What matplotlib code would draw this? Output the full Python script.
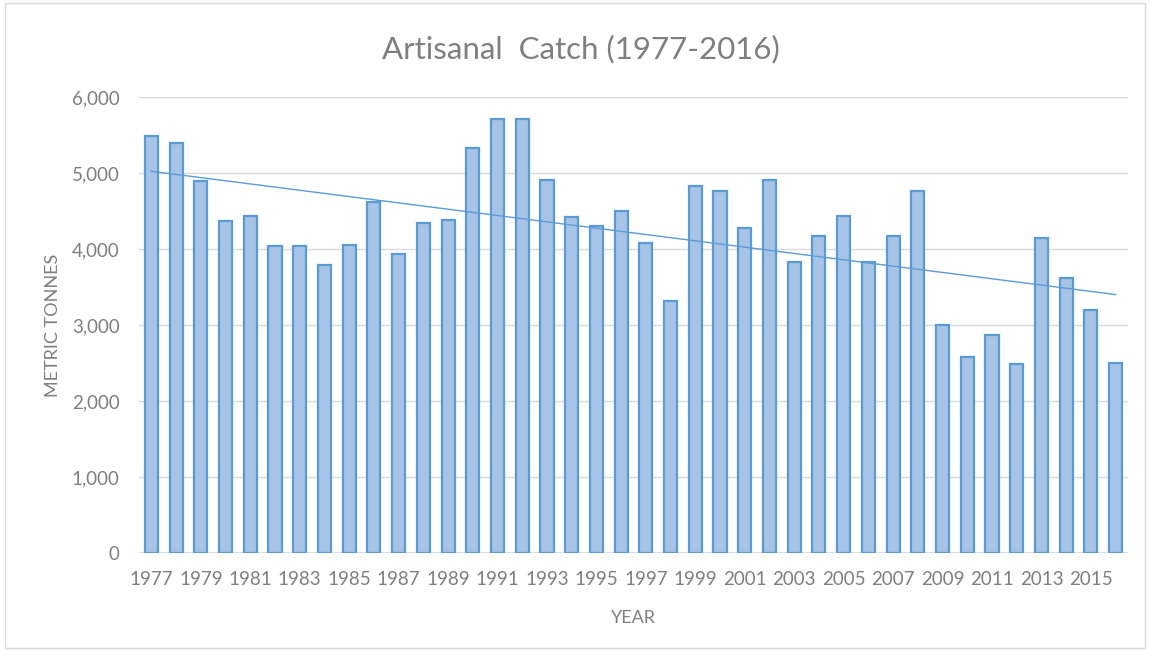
import numpy as np
import matplotlib
matplotlib.use("Agg")
import matplotlib.pyplot as plt
from matplotlib.patches import Rectangle

years = list(range(1977, 2017))
catch = [5490, 5400, 4900, 4365, 4430, 4035, 4035, 3795, 4050, 4625,
         3930, 4340, 4385, 5335, 5710, 5710, 4910, 4415, 4305, 4505,
         4080, 3320, 4835, 4765, 4275, 4910, 3835, 4170, 4430, 3835,
         4170, 4765, 3000, 2580, 2865, 2490, 4140, 3625, 3200, 2500]
yticks = [0, 1000, 2000, 3000, 4000, 5000, 6000]
ytick_labels = ["0", "1,000", "2,000", "3,000", "4,000", "5,000", "6,000"]

plt.rcParams['font.family'] = ['Lato', 'DejaVu Sans']
txt = '#7f7f7f'
blue = '#5b9bd5'
fill = '#a7c3e6'

fig = plt.figure(figsize=(11.51, 6.51), dpi=100)
ax = fig.add_axes([139/1151, 1-553/651, (1128-139)/1151, (553-97)/651])

x = np.arange(len(years))
ax.bar(x, catch, width=0.53, color=fill, edgecolor=blue, linewidth=1.6, zorder=3)

# linear trendline
coef = np.polyfit(x, catch, 1)
ax.plot(x, np.polyval(coef, x), color=blue, linewidth=1.0, zorder=4)

ax.set_xlim(-0.5, len(years) - 0.5)
ax.set_ylim(0, 6000)
ax.set_yticks(yticks)
ax.set_yticklabels(ytick_labels)
ax.set_xticks(x[::2])
ax.set_xticklabels([str(y) for y in years[::2]])
ax.tick_params(axis='both', length=0, colors=txt, labelsize=13.5)
ax.tick_params(axis='x', pad=13)
ax.tick_params(axis='y', pad=14)
ax.grid(axis='y', color='#d9d9d9', linewidth=1.0, zorder=0)
for s in ax.spines.values():
    s.set_visible(False)
ax.axhline(0, color='#d9d9d9', linewidth=1.2, zorder=2)

ax.set_xlabel('YEAR', color=txt, fontsize=13, labelpad=16)
ax.set_ylabel('METRIC TONNES', color=txt, fontsize=13, labelpad=8)
fig.text(581/1151, 1 - 49/651, 'Artisanal  Catch (1977-2016)',
         ha='center', va='center', fontsize=22.5, color=txt)

fig.patches.append(Rectangle((5/1151, 3/651), 1140/1151, 645/651, transform=fig.transFigure,
                             fill=False, edgecolor='#d9d9d9', linewidth=1.0))

fig.savefig('out.png', dpi=100)
